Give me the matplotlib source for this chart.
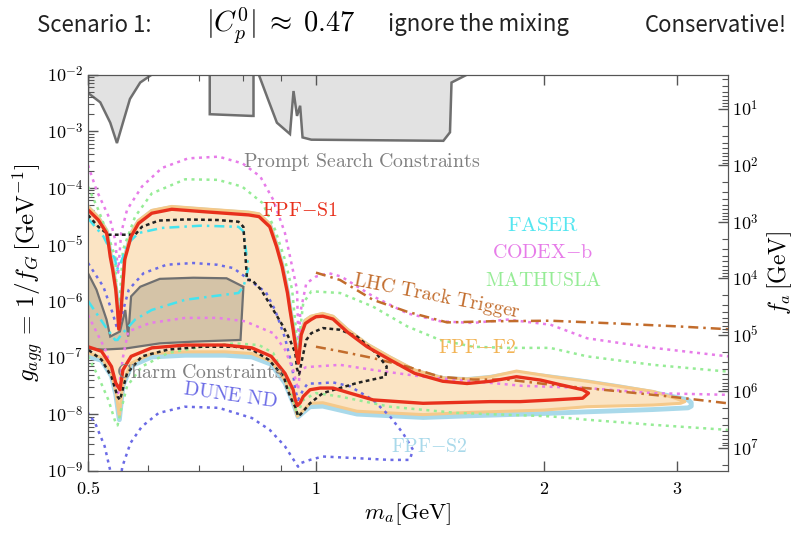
import numpy as np
import matplotlib
matplotlib.use('Agg')
import matplotlib.pyplot as plt
from matplotlib.ticker import FixedLocator, LogLocator, NullFormatter

plt.rcParams['mathtext.fontset'] = 'cm'

# curves as (m_a [GeV], log10 g_agg)
prompt_a = [(0.5, -1.9), (0.5, -2.33), (0.503, -2.35), (0.519, -2.49), (0.535, -2.85), (0.546, -3.21),
            (0.556, -2.85), (0.568, -2.43), (0.586, -2.14), (0.61, -1.98), (0.62, -1.9)]
prompt_b = [(0.724, -1.9), (0.724, -2.70), (0.822, -2.73), (0.827, -2.73), (0.827, -1.9)]
prompt_c = [(0.835, -1.9), (0.864, -2.43), (0.888, -2.85), (0.924, -3.05), (0.934, -2.29), (0.944, -2.73),
            (0.953, -2.55), (0.960, -3.11), (0.986, -3.15), (1.473, -3.17), (1.503, -3.02), (1.51, -2.14),
            (1.583, -2.0), (1.6, -1.9)]

charm = [(0.5, -5.51), (0.513, -5.80), (0.529, -6.33), (0.535, -6.63), (0.551, -6.54), (0.560, -6.16),
         (0.565, -6.63), (0.570, -5.92), (0.586, -5.75), (0.622, -5.61), (0.689, -5.59), (0.762, -5.60),
         (0.802, -5.75), (0.795, -6.69), (0.689, -6.72), (0.622, -6.75), (0.561, -6.84), (0.524, -6.86),
         (0.5, -6.84)]

s1_upper = [(0.5, -4.39), (0.516, -4.57), (0.529, -4.80), (0.532, -4.98), (0.535, -5.22), (0.539, -5.45),
            (0.544, -5.80), (0.547, -6.16), (0.549, -6.5), (0.553, -6.16), (0.556, -5.69), (0.559, -5.27),
            (0.570, -4.86), (0.583, -4.63), (0.607, -4.45), (0.645, -4.38), (0.706, -4.42), (0.758, -4.45),
            (0.815, -4.48), (0.841, -4.51), (0.869, -4.69), (0.887, -5.04), (0.902, -5.39), (0.917, -5.86),
            (0.924, -6.16), (0.933, -6.51), (0.944, -6.98), (0.948, -7.10), (0.956, -6.6), (0.968, -6.40),
            (0.985, -6.33), (1.0, -6.28), (1.021, -6.27), (1.053, -6.32), (1.10, -6.55), (1.168, -6.81),
            (1.252, -7.04), (1.35, -7.28), (1.47, -7.42), (1.583, -7.46), (1.70, -7.42), (1.84, -7.34),
            (1.98, -7.40), (2.04, -7.44), (2.10, -7.48), (2.25, -7.57), (2.29, -7.63)]
s1_lower = [(2.29, -7.63), (2.25, -7.72), (2.056, -7.75), (1.86, -7.78), (1.698, -7.78), (1.385, -7.81),
            (1.19, -7.75), (1.109, -7.63), (1.053, -7.54), (1.013, -7.54), (0.982, -7.57), (0.962, -7.69),
            (0.953, -7.80), (0.945, -7.85), (0.939, -7.75), (0.933, -7.57), (0.910, -7.28), (0.873, -6.98),
            (0.823, -6.83), (0.758, -6.78), (0.672, -6.78), (0.607, -6.83), (0.570, -6.98), (0.556, -7.22),
            (0.551, -7.57), (0.544, -7.45), (0.537, -7.16), (0.521, -6.89), (0.5, -6.81)]

f2_upper = [(0.5, -4.33), (0.516, -4.52), (0.529, -4.75), (0.535, -5.15), (0.540, -5.45), (0.545, -5.85),
            (0.549, -6.45), (0.553, -6.10), (0.557, -5.60), (0.560, -5.20), (0.570, -4.80), (0.583, -4.58),
            (0.607, -4.40), (0.645, -4.33), (0.706, -4.37), (0.758, -4.40), (0.815, -4.43), (0.841, -4.46),
            (0.869, -4.64), (0.887, -5.00), (0.902, -5.35), (0.917, -5.82), (0.924, -6.12), (0.933, -6.47),
            (0.944, -6.95), (0.948, -7.05), (0.956, -6.55), (0.968, -6.34), (0.985, -6.27), (1.02, -6.22),
            (1.053, -6.27), (1.10, -6.50), (1.168, -6.76), (1.252, -6.99), (1.35, -7.22), (1.47, -7.36),
            (1.583, -7.38), (1.70, -7.34), (1.84, -7.24), (2.056, -7.34), (2.28, -7.42), (2.52, -7.51),
            (2.787, -7.60), (2.98, -7.72), (3.07, -7.78)]
f2_lower = [(3.07, -7.78), (3.03, -7.81), (2.787, -7.84), (2.28, -7.87), (2.0, -7.93), (1.6, -7.97),
            (1.385, -8.01), (1.133, -7.95), (1.021, -7.80), (0.982, -7.81), (0.96, -7.95), (0.945, -8.04),
            (0.933, -7.75), (0.910, -7.40), (0.873, -7.07), (0.823, -6.93), (0.758, -6.90), (0.672, -6.90),
            (0.607, -6.93), (0.570, -7.10), (0.556, -7.45), (0.550, -8.04), (0.544, -7.60), (0.537, -7.28),
            (0.521, -7.0), (0.5, -6.92)]

s2_upper = [(0.5, -4.35), (0.516, -4.54), (0.529, -4.77), (0.535, -5.17), (0.540, -5.47), (0.545, -5.87),
            (0.549, -6.5), (0.553, -6.12), (0.557, -5.62), (0.560, -5.22), (0.570, -4.82), (0.583, -4.60),
            (0.607, -4.42), (0.645, -4.35), (0.706, -4.39), (0.758, -4.42), (0.815, -4.45), (0.841, -4.48),
            (0.869, -4.66), (0.887, -5.02), (0.902, -5.37), (0.917, -5.84), (0.924, -6.14), (0.933, -6.49),
            (0.944, -6.97), (0.948, -7.07), (0.956, -6.57), (0.968, -6.36), (0.985, -6.29), (1.02, -6.24),
            (1.053, -6.29), (1.10, -6.52), (1.168, -6.78), (1.252, -7.01), (1.35, -7.24), (1.47, -7.37),
            (1.583, -7.39), (1.70, -7.35), (1.84, -7.27), (2.056, -7.35), (2.28, -7.43), (2.52, -7.52),
            (2.787, -7.62), (2.98, -7.70), (3.10, -7.75), (3.13, -7.80)]
s2_lower = [(3.13, -7.86), (3.10, -7.89), (2.787, -7.92), (2.28, -7.96), (2.0, -7.99), (1.6, -8.03),
            (1.385, -8.06), (1.133, -8.00), (1.021, -7.86), (0.982, -7.87), (0.96, -7.98), (0.947, -8.05),
            (0.933, -7.80), (0.910, -7.45), (0.873, -7.12), (0.823, -6.99), (0.758, -6.96), (0.672, -6.96),
            (0.607, -6.99), (0.570, -7.15), (0.556, -7.5), (0.550, -8.1), (0.544, -7.65), (0.537, -7.33),
            (0.521, -7.05), (0.5, -6.98)]

faser = [(0.5, -4.54), (0.524, -4.86), (0.535, -5.10), (0.543, -5.27), (0.546, -5.45), (0.551, -5.36),
         (0.565, -4.98), (0.583, -4.80), (0.626, -4.71), (0.706, -4.67), (0.790, -4.69), (0.802, -4.77),
         (0.806, -4.98), (0.811, -5.27), (0.815, -5.39), (0.808, -5.6), (0.802, -5.75), (0.790, -5.86),
         (0.758, -5.89), (0.672, -5.98), (0.607, -6.16), (0.577, -6.33), (0.553, -6.60), (0.547, -6.69),
         (0.543, -6.69), (0.527, -6.45), (0.5, -6.0)]

codex_upper = [(0.5, -3.60), (0.513, -4.04), (0.535, -4.57), (0.543, -4.92), (0.548, -5.5), (0.553, -4.80),
               (0.563, -4.39), (0.589, -3.98), (0.626, -3.65), (0.678, -3.48), (0.744, -3.45), (0.80, -3.57),
               (0.844, -3.80), (0.878, -4.21), (0.910, -4.80), (0.93, -5.39), (0.944, -5.80), (0.947, -6.5),
               (0.950, -6.98), (0.953, -6.22), (0.971, -5.69), (1.0, -5.57), (1.04, -5.51), (1.08, -5.57),
               (1.19, -5.92), (1.32, -6.22), (1.46, -6.36), (1.61, -6.39), (1.79, -6.33), (2.04, -6.42),
               (2.28, -6.66), (2.79, -6.83), (3.5, -6.98)]
codex_lower = [(0.5, -6.25), (0.527, -6.86), (0.544, -7.45), (0.548, -7.63), (0.556, -7.0), (0.565, -6.54),
               (0.604, -6.39), (0.672, -6.30), (0.742, -6.30), (0.806, -6.36), (0.878, -6.57), (0.910, -6.86),
               (0.933, -7.22), (0.947, -7.57), (0.953, -7.22), (0.971, -7.17), (1.021, -7.15), (1.076, -7.13),
               (1.19, -7.22), (1.385, -7.34), (1.61, -7.42), (1.87, -7.50), (2.28, -7.54), (2.79, -7.63),
               (3.5, -7.66)]

mathusla_upper = [(0.5, -3.98), (0.516, -4.39), (0.532, -4.86), (0.543, -5.22), (0.548, -6.4), (0.556, -5.10),
                  (0.577, -4.51), (0.607, -4.10), (0.672, -3.85), (0.742, -3.86), (0.799, -3.98), (0.850, -4.27),
                  (0.883, -4.74), (0.91, -5.27), (0.93, -5.80), (0.944, -6.69), (0.948, -7.1), (0.953, -6.51),
                  (0.962, -6.04), (0.986, -5.83), (1.076, -5.86), (1.189, -6.10), (1.32, -6.45), (1.458, -6.69),
                  (1.612, -6.81), (1.788, -6.83), (2.038, -6.83), (2.28, -6.98), (2.787, -7.13), (3.5, -7.25)]
mathusla_lower = [(0.5, -6.98), (0.516, -7.34), (0.532, -7.75), (0.544, -8.16), (0.547, -8.2), (0.553, -7.92),
                  (0.563, -7.51), (0.589, -7.16), (0.638, -6.92), (0.706, -6.81), (0.782, -6.75), (0.841, -6.78),
                  (0.878, -6.92), (0.910, -7.34), (0.933, -7.69), (0.944, -8.02), (0.962, -7.75), (1.0, -7.63),
                  (1.076, -7.69), (1.252, -7.87), (1.535, -7.98), (2.038, -8.04), (2.28, -8.10), (2.787, -8.19),
                  (3.5, -8.28)]

dune = [(0.5, -5.33), (0.524, -5.75), (0.539, -6.22), (0.547, -6.51), (0.555, -6.22), (0.566, -5.80),
        (0.592, -5.51), (0.635, -5.36), (0.689, -5.33), (0.740, -5.36), (0.778, -5.42), (0.828, -5.69),
        (0.859, -5.85), (0.883, -6.16), (0.910, -6.65), (0.930, -7.16), (0.939, -7.57), (0.947, -7.75),
        (0.962, -7.57), (0.975, -7.46), (1.0, -7.46), (1.053, -7.44), (1.109, -7.51), (1.189, -7.75),
        (1.252, -8.04), (1.303, -8.34), (1.343, -8.63), (1.33, -8.81), (1.252, -8.81), (1.133, -8.78),
        (1.021, -8.75), (0.982, -8.81), (0.953, -8.87), (0.947, -8.93), (0.910, -8.57), (0.869, -8.28),
        (0.823, -8.07), (0.744, -7.89), (0.671, -7.87), (0.620, -7.98), (0.589, -8.22), (0.569, -8.51),
        (0.555, -8.93), (0.550, -9.3), (0.538, -9.3), (0.535, -9.0), (0.526, -8.57), (0.511, -8.16),
        (0.5, -7.98)]

black = [(0.5, -4.48), (0.516, -4.69), (0.532, -4.83), (0.577, -4.83), (0.589, -4.69), (0.620, -4.58),
         (0.672, -4.56), (0.742, -4.57), (0.790, -4.60), (0.802, -4.69), (0.811, -5.63), (0.823, -5.63),
         (0.846, -5.80), (0.873, -6.10), (0.905, -6.45), (0.924, -6.69), (0.939, -6.92), (0.944, -7.2),
         (0.950, -7.3), (0.958, -7.05), (0.971, -6.69), (0.986, -6.57), (1.021, -6.48), (1.076, -6.51),
         (1.133, -6.63), (1.20, -6.92), (1.24, -7.16), (1.235, -7.34), (1.133, -7.45), (1.021, -7.63),
         (0.982, -7.81), (0.955, -8.0), (0.947, -8.04), (0.939, -7.87), (0.933, -7.81), (0.917, -7.57),
         (0.907, -7.34), (0.866, -7.04), (0.823, -6.86), (0.782, -6.81), (0.706, -6.81), (0.638, -6.86),
         (0.589, -6.98), (0.563, -7.28), (0.551, -7.75), (0.547, -7.69), (0.537, -7.34), (0.521, -7.04),
         (0.5, -6.86)]

lhc_upper = [(1.0, -5.50), (1.076, -5.63), (1.189, -5.98), (1.319, -6.19), (1.49, -6.38), (1.70, -6.36),
             (2.04, -6.35), (2.5, -6.40), (3.0, -6.45), (3.5, -6.50)]
lhc_lower = [(1.0, -6.81), (1.076, -6.89), (1.189, -7.01), (1.319, -7.16), (1.458, -7.34), (1.612, -7.39),
             (1.788, -7.39), (2.04, -7.48), (2.52, -7.60), (2.93, -7.69), (3.5, -7.81)]

C_FA = 10 ** -1.6  # f_a = C_FA / g_agg
y_exps = list(range(-9, -1))
fa_exps = list(range(1, 8))
x_major = [0.5, 1, 2, 3]
x_labels = ['0.5', '1', '2', '3']


def xy(pts):
    a = np.array(pts, dtype=float)
    return a[:, 0], 10.0 ** a[:, 1]


fig = plt.figure(figsize=(8, 5.33), dpi=100)
ax = fig.add_axes([0.11, 0.117, 0.80, 0.743])
ax.set_xscale('log')
ax.set_yscale('log')

gray_edge = '#6f6f6f'
for poly in (prompt_a, prompt_b, prompt_c):
    m, g = xy(poly)
    ax.fill(m, g, facecolor='#e2e2e2', edgecolor=gray_edge, lw=1.8, zorder=1)

# FPF-S2 outline, FPF-F2 region
m, g = xy(s2_upper + s2_lower)
ax.plot(m, g, color='#a9d9ea', lw=3.5, zorder=2, solid_joinstyle='round')
m, g = xy(f2_upper + f2_lower)
ax.fill(m, g, facecolor='#fbe4c4', edgecolor='none', zorder=3)
ax.plot(m, g, color='#f5c98a', lw=2.2, zorder=3.1)

m, g = xy(charm)
ax.fill(m, g, facecolor='#d4c3a7', edgecolor='#707070', lw=1.6, zorder=4)

dots = (0, (1.2, 1.8))
for pts, col in ((dune, '#6b6be6'), (codex_upper, '#e77ce9'), (codex_lower, '#e77ce9'),
                 (mathusla_upper, '#96ec96'), (mathusla_lower, '#96ec96')):
    m, g = xy(pts)
    ax.plot(m, g, color=col, lw=1.8, ls=dots, zorder=5)

m, g = xy(faser)
ax.plot(m, g, color='#45e3ee', lw=1.8, ls=(0, (4, 2, 1, 2)), zorder=5)
for pts in (lhc_upper, lhc_lower):
    m, g = xy(pts)
    ax.plot(m, g, color='#c26c2c', lw=1.8, ls=(0, (4, 2, 1, 2)), zorder=5)
m, g = xy(black)
ax.plot(m, g, color='#222222', lw=1.8, ls=(0, (1.5, 1.3)), zorder=5)

m, g = xy(s1_upper + s1_lower)
ax.plot(m, g, color='#e8301c', lw=2.4, zorder=6, solid_joinstyle='round')

ax.set_xlim(0.5, 3.5)
ax.set_ylim(1e-9, 1e-2)

ax.set_xticks(x_major)
ax.set_xticklabels([r'$%s$' % s for s in x_labels])
ax.xaxis.set_minor_locator(FixedLocator([0.6, 0.7, 0.8, 0.9]))
ax.xaxis.set_minor_formatter(NullFormatter())
ax.set_yticks([10.0 ** k for k in y_exps])
ax.set_yticklabels([r'$10^{%d}$' % k for k in y_exps])
ax.yaxis.set_minor_locator(LogLocator(base=10, subs=np.arange(2, 10), numticks=20))
ax.yaxis.set_minor_formatter(NullFormatter())
ax.tick_params(which='both', direction='in', top=True, right=False, colors='#555555',
               labelcolor='black', labelsize=13)
ax.tick_params(axis='x', which='major', pad=7)
ax.tick_params(which='major', length=7, width=1)
ax.tick_params(which='minor', length=4, width=0.8)
for sp in ax.spines.values():
    sp.set_color('#555555')

ax2 = ax.twinx()
ax2.set_yscale('log')
ax2.set_ylim(C_FA / 1e-9, C_FA / 1e-2)
ax2.set_yticks([10.0 ** k for k in fa_exps])
ax2.set_yticklabels([r'$10^{%d}$' % k for k in fa_exps])
ax2.yaxis.set_minor_locator(LogLocator(base=10, subs=np.arange(2, 10), numticks=20))
ax2.yaxis.set_minor_formatter(NullFormatter())
ax2.tick_params(which='both', direction='in', colors='#555555', labelcolor='black', labelsize=13, pad=3)
ax2.tick_params(which='major', length=7, width=1)
ax2.tick_params(which='minor', length=4, width=0.8)
for sp in ax2.spines.values():
    sp.set_color('#555555')

ax.set_xlabel(r'$m_a[\mathrm{GeV}]$', fontsize=16.5, labelpad=2)
ax.set_ylabel(r'$g_{agg}\,=\,1/f_G\,[\mathrm{GeV}^{-1}]$', fontsize=18, labelpad=0)
ax2.set_ylabel(r'$f_a\,[\mathrm{GeV}]$', fontsize=17, labelpad=4)


def label(x, y, txt, col, rot=0, size=14.3):
    ax.text(x, y, r'$\mathrm{%s}$' % txt, color=col, fontsize=size, ha='center', va='center',
            rotation=rot, transform=ax.transAxes, zorder=7)


label(0.427, 0.780, r'Prompt\ Search\ Constraints', '#808080')
label(0.331, 0.658, r'FPF{-}S1', '#e8301c')
label(0.711, 0.620, r'FASER', '#55e6f0', size=15)
label(0.711, 0.552, r'CODEX{-}b', '#e77ce9')
label(0.711, 0.481, r'MATHUSLA', '#96ec96')
label(0.545, 0.441, r'LHC\ Track\ Trigger', '#c26c2c', rot=-11)
label(0.608, 0.310, r'FPF{-}F2', '#f2b456')
label(0.175, 0.249, r'Charm\ Constraints', '#808080')
label(0.222, 0.191, r'DUNE\ ND', '#6b6be6', rot=-8)
label(0.534, 0.062, r'FPF{-}S2', '#a9d9ea')

ty = 1 - 25 / 533
cjk = ['Noto Sans CJK SC', 'DejaVu Sans']
fig.text(0.046, ty, 'Scenario 1:', fontsize=16, family=cjk, va='center', color='#222222')
fig.text(0.257, ty, r'$|C_p^0|\;\approx\;0.47$', fontsize=20.5, va='center')
fig.text(0.485, ty, 'ignore the mixing', fontsize=16, family=cjk, va='center', color='#222222')
fig.text(0.806, ty, 'Conservative!', fontsize=16, family=cjk, va='center', color='#222222')

fig.savefig('out.png', dpi=100)
